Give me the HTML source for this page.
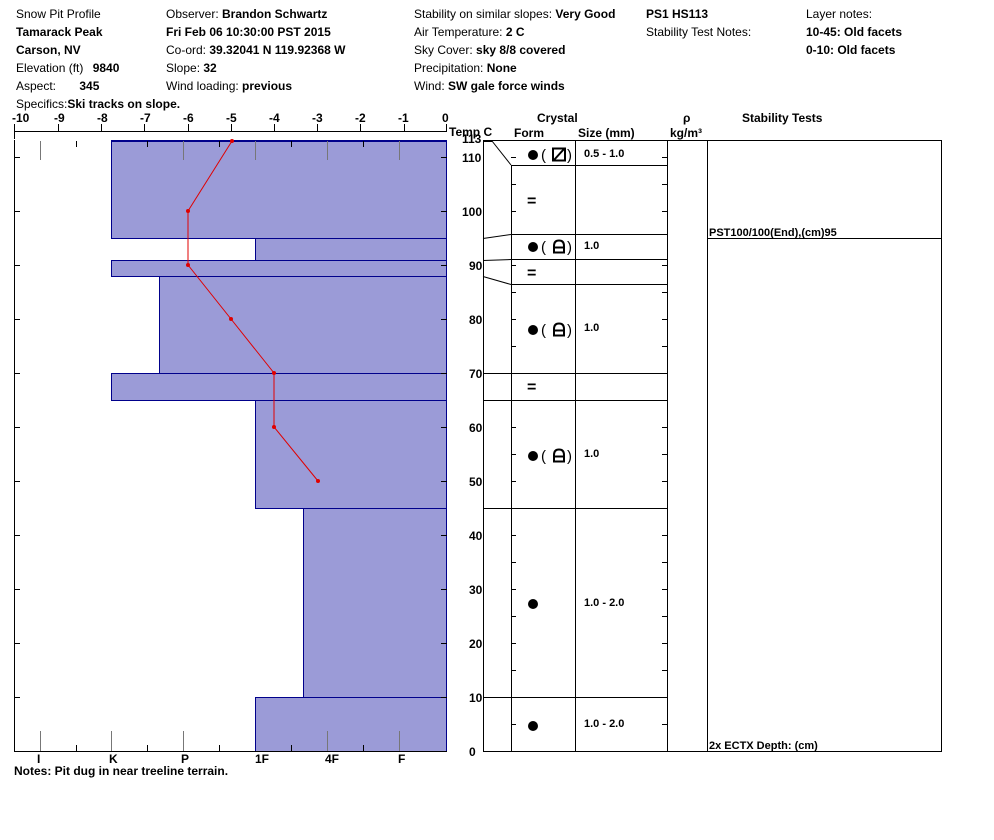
<!DOCTYPE html>
<html><head><meta charset="utf-8"><style>
body{margin:0;background:#fff}
svg{display:block}
text{font-family:"Liberation Sans",Arial,sans-serif;font-size:12px;fill:#000}
.b{font-weight:bold}
</style></head><body>
<svg width="994" height="840" viewBox="0 0 994 840" xmlns="http://www.w3.org/2000/svg">
<!-- header -->
<text x="16" y="18">Snow Pit Profile</text>
<text x="16" y="36" class="b">Tamarack Peak</text>
<text x="16" y="54" class="b">Carson, NV</text>
<text x="16" y="72">Elevation (ft) <tspan class="b" dx="6">9840</tspan></text>
<text x="16" y="90">Aspect: <tspan class="b" dx="20">345</tspan></text>
<text x="16" y="108">Specifics:<tspan class="b">Ski tracks on slope.</tspan></text>
<text x="166" y="18">Observer: <tspan class="b">Brandon Schwartz</tspan></text>
<text x="166" y="36" class="b">Fri Feb 06 10:30:00 PST 2015</text>
<text x="166" y="54">Co-ord: <tspan class="b">39.32041 N 119.92368 W</tspan></text>
<text x="166" y="72">Slope: <tspan class="b">32</tspan></text>
<text x="166" y="90">Wind loading: <tspan class="b">previous</tspan></text>
<text x="414" y="18">Stability on similar slopes: <tspan class="b">Very Good</tspan></text>
<text x="414" y="36">Air Temperature: <tspan class="b">2 C</tspan></text>
<text x="414" y="54">Sky Cover: <tspan class="b">sky 8/8 covered</tspan></text>
<text x="414" y="72">Precipitation: <tspan class="b">None</tspan></text>
<text x="414" y="90">Wind: <tspan class="b">SW gale force winds</tspan></text>
<text x="646" y="18" class="b">PS1 HS113</text>
<text x="646" y="36">Stability Test Notes:</text>
<text x="806" y="18">Layer notes:</text>
<text x="806" y="36" class="b">10-45: Old facets</text>
<text x="806" y="54" class="b">0-10: Old facets</text>

<!-- temp axis -->
<g class="b">
<text x="12" y="122" class="b">-10</text><text x="54" y="122" class="b">-9</text><text x="97" y="122" class="b">-8</text>
<text x="140" y="122" class="b">-7</text><text x="183" y="122" class="b">-6</text><text x="226" y="122" class="b">-5</text>
<text x="269" y="122" class="b">-4</text><text x="312" y="122" class="b">-3</text><text x="355" y="122" class="b">-2</text>
<text x="398" y="122" class="b">-1</text><text x="442" y="122" class="b">0</text>
</g>
<g stroke="#000" stroke-width="1">
<line x1="14" y1="131.5" x2="447" y2="131.5"/>
<line x1="14.5" y1="124" x2="14.5" y2="139"/><line x1="58.5" y1="124" x2="58.5" y2="131"/><line x1="101.5" y1="124" x2="101.5" y2="131"/>
<line x1="144.5" y1="124" x2="144.5" y2="131"/><line x1="188.5" y1="124" x2="188.5" y2="131"/><line x1="231.5" y1="124" x2="231.5" y2="131"/>
<line x1="274.5" y1="124" x2="274.5" y2="131"/><line x1="317.5" y1="124" x2="317.5" y2="131"/><line x1="360.5" y1="124" x2="360.5" y2="131"/>
<line x1="404.5" y1="124" x2="404.5" y2="131"/><line x1="446.5" y1="124" x2="446.5" y2="131"/>
</g>
<text x="449" y="136" class="b">Temp C</text>

<!-- hardness bars -->
<g fill="#9b9bd7" stroke="#00008b" stroke-width="1">
<rect x="111.5" y="141.5" width="335" height="97"/>
<rect x="255.5" y="238.5" width="191" height="22"/>
<rect x="111.5" y="260.5" width="335" height="16"/>
<rect x="159.5" y="276.5" width="287" height="97"/>
<rect x="111.5" y="373.5" width="335" height="27"/>
<rect x="255.5" y="400.5" width="191" height="108"/>
<rect x="303.5" y="508.5" width="143" height="189"/>
<rect x="255.5" y="697.5" width="191" height="54"/>
</g>
<line x1="111" y1="141" x2="447" y2="141" stroke="#00008b" stroke-width="2"/>
<!-- chart frame -->
<g stroke="#000" stroke-width="1" fill="none">
<line x1="14.5" y1="140" x2="14.5" y2="751"/>
<line x1="14" y1="751.5" x2="447" y2="751.5"/>
</g>
<!-- gray hardness guides -->
<g stroke="#777" stroke-width="1">
<line x1="40.5" y1="141" x2="40.5" y2="160"/><line x1="183.5" y1="141" x2="183.5" y2="160"/><line x1="255.5" y1="141" x2="255.5" y2="160"/>
<line x1="327.5" y1="141" x2="327.5" y2="160"/><line x1="399.5" y1="141" x2="399.5" y2="160"/>
<line x1="40.5" y1="731" x2="40.5" y2="751"/><line x1="111.5" y1="731" x2="111.5" y2="751"/><line x1="183.5" y1="731" x2="183.5" y2="751"/>
<line x1="327.5" y1="731" x2="327.5" y2="751"/><line x1="399.5" y1="731" x2="399.5" y2="751"/>
</g>
<g stroke="#000" stroke-width="1">
<line x1="76.5" y1="141" x2="76.5" y2="147"/><line x1="147.5" y1="141" x2="147.5" y2="147"/><line x1="219.5" y1="141" x2="219.5" y2="147"/><line x1="291.5" y1="141" x2="291.5" y2="147"/><line x1="363.5" y1="141" x2="363.5" y2="147"/>
<line x1="76.5" y1="745" x2="76.5" y2="751"/><line x1="147.5" y1="745" x2="147.5" y2="751"/><line x1="219.5" y1="745" x2="219.5" y2="751"/><line x1="291.5" y1="745" x2="291.5" y2="751"/><line x1="363.5" y1="745" x2="363.5" y2="751"/>
</g>
<!-- depth ticks -->
<g stroke="#000" stroke-width="1" id="dt">
<line x1="14" y1="157.5" x2="20" y2="157.5"/><line x1="441" y1="157.5" x2="447" y2="157.5"/>
<line x1="14" y1="211.5" x2="20" y2="211.5"/><line x1="441" y1="211.5" x2="447" y2="211.5"/>
<line x1="14" y1="265.5" x2="20" y2="265.5"/><line x1="441" y1="265.5" x2="447" y2="265.5"/>
<line x1="14" y1="319.5" x2="20" y2="319.5"/><line x1="441" y1="319.5" x2="447" y2="319.5"/>
<line x1="14" y1="373.5" x2="20" y2="373.5"/><line x1="441" y1="373.5" x2="447" y2="373.5"/>
<line x1="14" y1="427.5" x2="20" y2="427.5"/><line x1="441" y1="427.5" x2="447" y2="427.5"/>
<line x1="14" y1="481.5" x2="20" y2="481.5"/><line x1="441" y1="481.5" x2="447" y2="481.5"/>
<line x1="14" y1="535.5" x2="20" y2="535.5"/><line x1="441" y1="535.5" x2="447" y2="535.5"/>
<line x1="14" y1="589.5" x2="20" y2="589.5"/><line x1="441" y1="589.5" x2="447" y2="589.5"/>
<line x1="14" y1="643.5" x2="20" y2="643.5"/><line x1="441" y1="643.5" x2="447" y2="643.5"/>
<line x1="14" y1="697.5" x2="20" y2="697.5"/><line x1="441" y1="697.5" x2="447" y2="697.5"/>
</g>
<!-- hardness labels -->
<g class="b">
<text x="37" y="763" class="b">I</text><text x="109" y="763" class="b">K</text><text x="181" y="763" class="b">P</text>
<text x="255" y="763" class="b">1F</text><text x="325" y="763" class="b">4F</text><text x="398" y="763" class="b">F</text>
</g>
<text x="14" y="775" class="b">Notes:  Pit dug in near treeline terrain.</text>

<!-- temperature profile -->
<polyline points="232,141 188,211 188,265 231,319 274,373 274,427 318,481" fill="none" stroke="#e00000" stroke-width="1"/>
<g fill="#e00000">
<circle cx="232" cy="141" r="2"/><circle cx="188" cy="211" r="2"/><circle cx="188" cy="265" r="2"/><circle cx="231" cy="319" r="2"/>
<circle cx="274" cy="373" r="2"/><circle cx="274" cy="427" r="2"/><circle cx="318" cy="481" r="2"/>
</g>

<!-- depth labels -->
<g class="b">
<text x="462" y="143" class="b">113</text>
<text x="462" y="162" class="b">110</text><text x="462" y="216" class="b">100</text><text x="469" y="270" class="b">90</text>
<text x="469" y="324" class="b">80</text><text x="469" y="378" class="b">70</text><text x="469" y="432" class="b">60</text>
<text x="469" y="486" class="b">50</text><text x="469" y="540" class="b">40</text><text x="469" y="594" class="b">30</text>
<text x="469" y="648" class="b">20</text><text x="469" y="702" class="b">10</text><text x="469" y="756" class="b">0</text>
</g>

<!-- right table headers -->
<text x="537" y="122" class="b">Crystal</text>
<text x="514" y="137" class="b">Form</text>
<text x="578" y="137" class="b">Size (mm)</text>
<text x="683" y="122" class="b">ρ</text>
<text x="670" y="137" class="b">kg/m³</text>
<text x="742" y="122" class="b">Stability Tests</text>

<g stroke="#000" stroke-width="1" fill="none">
<line x1="483" y1="140.5" x2="941" y2="140.5"/>
<line x1="483" y1="751.5" x2="941" y2="751.5"/>
<line x1="483.5" y1="140" x2="483.5" y2="752"/>
<line x1="511.5" y1="165" x2="511.5" y2="752"/>
<line x1="575.5" y1="140" x2="575.5" y2="752"/>
<line x1="667.5" y1="140" x2="667.5" y2="752"/>
<line x1="707.5" y1="140" x2="707.5" y2="752"/>
<line x1="941.5" y1="140" x2="941.5" y2="752"/>
<line x1="707" y1="238.5" x2="941" y2="238.5"/>
<!-- layer lines -->
<line x1="511" y1="165.5" x2="667" y2="165.5"/>
<line x1="511" y1="234.5" x2="667" y2="234.5"/>
<line x1="511" y1="259.5" x2="667" y2="259.5"/>
<line x1="511" y1="284.5" x2="667" y2="284.5"/>
<line x1="483" y1="373.5" x2="667" y2="373.5"/>
<line x1="483" y1="400.5" x2="667" y2="400.5"/>
<line x1="483" y1="508.5" x2="667" y2="508.5"/>
<line x1="483" y1="697.5" x2="667" y2="697.5"/>
<!-- connectors -->
<line x1="492" y1="141" x2="511" y2="165"/>
<line x1="483" y1="238.5" x2="511" y2="234.5"/>
<line x1="483" y1="260.5" x2="511" y2="259.5"/>
<line x1="483" y1="276.5" x2="511" y2="284.5"/>
</g>
<line x1="483" y1="141" x2="492" y2="141" stroke="#000" stroke-width="2"/>
<!-- small ticks crystal cols -->
<g stroke="#000" stroke-width="1">
<line x1="511" y1="157.5" x2="516" y2="157.5"/><line x1="662" y1="157.5" x2="667" y2="157.5"/>
<line x1="511" y1="184.5" x2="516" y2="184.5"/><line x1="662" y1="184.5" x2="667" y2="184.5"/>
<line x1="511" y1="211.5" x2="516" y2="211.5"/><line x1="662" y1="211.5" x2="667" y2="211.5"/>
<line x1="511" y1="265.5" x2="516" y2="265.5"/><line x1="662" y1="265.5" x2="667" y2="265.5"/>
<line x1="511" y1="292.5" x2="516" y2="292.5"/><line x1="662" y1="292.5" x2="667" y2="292.5"/>
<line x1="511" y1="319.5" x2="516" y2="319.5"/><line x1="662" y1="319.5" x2="667" y2="319.5"/>
<line x1="511" y1="346.5" x2="516" y2="346.5"/><line x1="662" y1="346.5" x2="667" y2="346.5"/>
<line x1="511" y1="427.5" x2="516" y2="427.5"/><line x1="662" y1="427.5" x2="667" y2="427.5"/>
<line x1="511" y1="454.5" x2="516" y2="454.5"/><line x1="662" y1="454.5" x2="667" y2="454.5"/>
<line x1="511" y1="481.5" x2="516" y2="481.5"/><line x1="662" y1="481.5" x2="667" y2="481.5"/>
<line x1="511" y1="535.5" x2="516" y2="535.5"/><line x1="662" y1="535.5" x2="667" y2="535.5"/>
<line x1="511" y1="562.5" x2="516" y2="562.5"/><line x1="662" y1="562.5" x2="667" y2="562.5"/>
<line x1="511" y1="589.5" x2="516" y2="589.5"/><line x1="662" y1="589.5" x2="667" y2="589.5"/>
<line x1="511" y1="616.5" x2="516" y2="616.5"/><line x1="662" y1="616.5" x2="667" y2="616.5"/>
<line x1="511" y1="643.5" x2="516" y2="643.5"/><line x1="662" y1="643.5" x2="667" y2="643.5"/>
<line x1="511" y1="670.5" x2="516" y2="670.5"/><line x1="662" y1="670.5" x2="667" y2="670.5"/>
<line x1="511" y1="724.5" x2="516" y2="724.5"/><line x1="662" y1="724.5" x2="667" y2="724.5"/>
</g>

<!-- crystal forms -->
<g>
<circle cx="533" cy="155" r="5"/>
<text x="541" y="160" style="font-size:15px">(</text>
<rect x="553" y="148.5" width="12" height="12" fill="none" stroke="#000" stroke-width="2"/>
<line x1="554" y1="160" x2="564" y2="149" stroke="#000" stroke-width="2"/>
<text x="567" y="160" style="font-size:15px">)</text>
<text x="584" y="157" class="b" style="font-size:11px">0.5 - 1.0</text>

<text x="527" y="206" class="b" style="font-size:16px">=</text>

<circle cx="533" cy="247" r="5"/>
<text x="541" y="252" style="font-size:15px">(</text>
<path d="M554 252.5 V246 Q554 240.5 559 240.5 Q564 240.5 564 246 V252.5 Z M554 247.5 H564" fill="none" stroke="#000" stroke-width="2"/>
<text x="567" y="252" style="font-size:15px">)</text>
<text x="584" y="249" class="b" style="font-size:11px">1.0</text>

<text x="527" y="278" class="b" style="font-size:16px">=</text>

<circle cx="533" cy="330" r="5"/>
<text x="541" y="335" style="font-size:15px">(</text>
<path d="M554 335.5 V329 Q554 323.5 559 323.5 Q564 323.5 564 329 V335.5 Z M554 330.5 H564" fill="none" stroke="#000" stroke-width="2"/>
<text x="567" y="335" style="font-size:15px">)</text>
<text x="584" y="331" class="b" style="font-size:11px">1.0</text>

<text x="527" y="392" class="b" style="font-size:16px">=</text>

<circle cx="533" cy="456" r="5"/>
<text x="541" y="461" style="font-size:15px">(</text>
<path d="M554 461.5 V455 Q554 449.5 559 449.5 Q564 449.5 564 455 V461.5 Z M554 456.5 H564" fill="none" stroke="#000" stroke-width="2"/>
<text x="567" y="461" style="font-size:15px">)</text>
<text x="584" y="457" class="b" style="font-size:11px">1.0</text>

<circle cx="533" cy="604" r="5"/>
<text x="584" y="606" class="b" style="font-size:11px">1.0 - 2.0</text>
<circle cx="533" cy="726" r="5"/>
<text x="584" y="727" class="b" style="font-size:11px">1.0 - 2.0</text>
</g>

<text x="709" y="236" class="b" style="font-size:11px">PST100/100(End),(cm)95</text>
<text x="709" y="749" class="b" style="font-size:11px">2x ECTX   Depth: (cm)</text>
</svg>
</body></html>
